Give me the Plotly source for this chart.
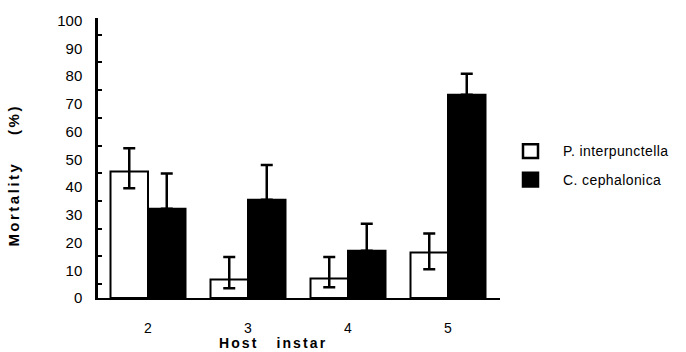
import plotly.graph_objects as go

# Host instar categories
instars = ["2", "3", "4", "5"]

# Mortality (%) of P. interpunctella hosts, with upper / lower error
p_interp = [45.6, 6.7, 7.0, 16.4]
p_interp_err_up = [8.4, 8.1, 7.8, 6.9]
p_interp_err_down = [6.0, 3.2, 3.1, 6.0]

# Mortality (%) of C. cephalonica hosts, with upper error
c_ceph = [32.2, 35.4, 17.0, 73.3]
c_ceph_err_up = [12.7, 12.6, 9.8, 7.6]

y_tick_vals = [0, 10, 20, 30, 40, 50, 60, 70, 80, 90, 100]

W, H = 686, 352
L, R, T, B = 98, 186, 12, 54
plot_w = W - L - R
plot_h = H - T - B

FONT = "Liberation Sans, Arial, Helvetica, sans-serif"


def px_x(px):
    return (px - L) / plot_w


def px_y(py):
    return (H - B - py) / plot_h


fig = go.Figure()

fig.add_trace(go.Bar(
    x=instars, y=p_interp, name="P. interpunctella",
    marker=dict(color="white", line=dict(color="black", width=2)),
    error_y=dict(type="data", array=p_interp_err_up, arrayminus=p_interp_err_down,
                 symmetric=False, color="black", thickness=2.5, width=6),
    showlegend=False,
))
fig.add_trace(go.Bar(
    x=instars, y=c_ceph, name="C. cephalonica",
    marker=dict(color="black", line=dict(color="black", width=2)),
    error_y=dict(type="data", array=c_ceph_err_up, arrayminus=[0, 0, 0, 0],
                 symmetric=False, color="black", thickness=2.5, width=6),
    showlegend=False,
))

fig.update_layout(
    width=W, height=H,
    margin=dict(l=L, r=R, t=T, b=B, pad=0),
    paper_bgcolor="white", plot_bgcolor="white",
    barmode="group", bargap=0.25, bargroupgap=0,
    font=dict(family=FONT, color="black"),
    xaxis=dict(
        range=[-0.5, 3.52], showline=True, linecolor="black", linewidth=2,
        showgrid=False, zeroline=False, ticks="", ticklabelstandoff=16,
        tickfont=dict(size=14, family=FONT),
    ),
    yaxis=dict(
        range=[0, 101], showline=True, linecolor="black", linewidth=2.5,
        showgrid=False, zeroline=False, ticks="",
        tickmode="array", tickvals=y_tick_vals,
        ticklabelstandoff=10,
        tickfont=dict(size=15, family=FONT),
        minor=dict(tick0=5, dtick=10, ticks="inside", ticklen=4,
                   tickwidth=2, tickcolor="black"),
    ),
)

# Axis titles
fig.add_annotation(
    text='<b><span style="letter-spacing:2.1px">Host   instar</span></b>',
    xref="paper", yref="paper", x=px_x(273), y=px_y(344),
    xanchor="center", yanchor="middle", showarrow=False,
    font=dict(size=14, family=FONT),
)
fig.add_annotation(
    text='<b><span style="letter-spacing:2.5px">Mortality    (%)</span></b>',
    xref="paper", yref="paper", x=px_x(14), y=px_y(173),
    xanchor="center", yanchor="middle", showarrow=False, textangle=-90,
    font=dict(size=15, family=FONT),
)

# Legend
legend_items = [("P. interpunctella", "white", 148), ("C. cephalonica", "black", 177)]
for label, fill, cy in legend_items:
    fig.add_shape(
        type="rect", xref="paper", yref="paper",
        x0=px_x(523), x1=px_x(538), y0=px_y(cy - 7), y1=px_y(cy + 7),
        fillcolor=fill, line=dict(color="black", width=2.5),
    )
    fig.add_annotation(
        text=f'<span style="letter-spacing:0.4px">{label}</span>',
        xref="paper", yref="paper", x=px_x(561), y=px_y(cy),
        xanchor="left", yanchor="middle", showarrow=False,
        font=dict(size=14, family=FONT),
    )

fig.write_html("out.html")
